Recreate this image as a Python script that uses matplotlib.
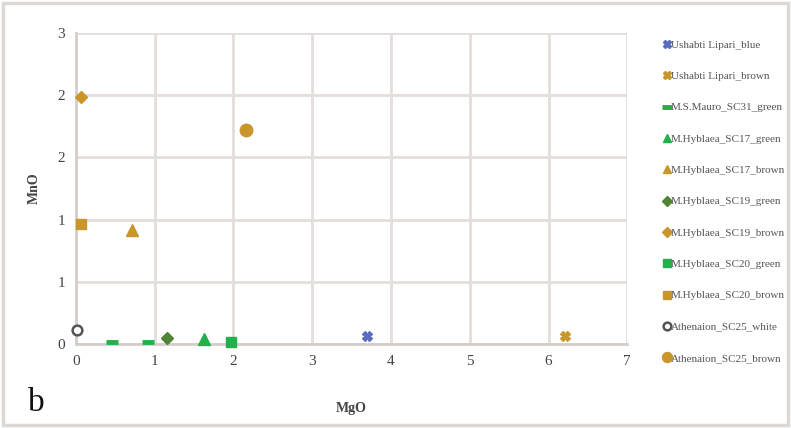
import matplotlib
matplotlib.use('Agg')
import matplotlib.pyplot as plt
from matplotlib.patches import Rectangle
from matplotlib.ticker import FixedLocator, FuncFormatter

plt.rcParams['font.family'] = ['Liberation Serif', 'DejaVu Serif']

# MgO / MnO values per sample group
series_names = [
    "Ushabti Lipari_blue", "Ushabti Lipari_brown", "M.S.Mauro_SC31_green",
    "M.Hyblaea_SC17_green", "M.Hyblaea_SC17_brown", "M.Hyblaea_SC19_green",
    "M.Hyblaea_SC19_brown", "M.Hyblaea_SC20_green", "M.Hyblaea_SC20_brown",
    "Athenaion_SC25_white", "Athenaion_SC25_brown",
]
mgo = [[3.70], [6.21], [0.46, 0.91], [1.63], [0.71], [1.15],
       [0.07], [1.97], [0.06], [0.01], [2.16]]
mno = [[0.08], [0.08], [0.02, 0.02], [0.05], [1.10], [0.06],
       [2.38], [0.02], [1.16], [0.135], [2.06]]

blue = '#5b6cc0'
brown = '#c8962a'
green = '#22b04b'
dkgreen = '#4f8533'
grey = '#555555'

styles = [
    dict(marker='X', color=blue, ms=7),
    dict(marker='X', color=brown, ms=7),
    dict(marker='_', color=green, ms=9, mew=3.5),
    dict(marker='^', color=green, ms=8),
    dict(marker='^', color=brown, ms=8),
    dict(marker='D', color=dkgreen, ms=6),
    dict(marker='D', color=brown, ms=6),
    dict(marker='s', color=green, ms=7),
    dict(marker='s', color=brown, ms=7),
    dict(marker='o', color=grey, ms=7, mfc='white', mew=1.8),
    dict(marker='o', color=brown, ms=9),
]

fig = plt.figure(figsize=(7.91, 4.28), dpi=100)
ax = fig.add_axes([0.096, 0.196, 0.697, 0.727])

for name, xs, ys, st in zip(series_names, mgo, mno, styles):
    st = dict(st)
    kw = dict(marker=st.pop('marker'), color=st.pop('color'),
              markersize=st.pop('ms'), linestyle='none', label=name)
    if 'mfc' in st:
        kw['markerfacecolor'] = st.pop('mfc')
    if 'mew' in st:
        kw['markeredgewidth'] = st.pop('mew')
    ax.plot(xs, ys, clip_on=False, zorder=3, **kw)

ax.set_xlim(0, 7)
ax.set_ylim(0, 3)
ax.xaxis.set_major_locator(FixedLocator(range(0, 8)))
ax.yaxis.set_major_locator(FixedLocator([0, 0.6, 1.2, 1.8, 2.4, 3.0]))
ax.yaxis.set_major_formatter(FuncFormatter(lambda v, p: f"{v:.0f}"))
ax.grid(True, color='#e3dedb', linewidth=2)
ax.set_axisbelow(True)
for side in ['top', 'right']:
    ax.spines[side].set_visible(False)
for side in ['left', 'bottom']:
    ax.spines[side].set_color('#d5cdca')
    ax.spines[side].set_linewidth(2)
ax.tick_params(length=0, labelsize=11, colors='#444444', pad=8)

ax.set_xlabel('MgO', fontsize=10, fontweight='bold', color='#444444', labelpad=24)
ax.set_ylabel('MnO', fontsize=10, fontweight='bold', color='#444444', labelpad=12)

fig.legend(loc='upper left', bbox_to_anchor=(0.826, 0.93), frameon=False,
           fontsize=8, labelspacing=1.94, handlelength=0.6, handletextpad=0.1,
           labelcolor='#555555', markerscale=0.8)

fig.text(0.036, 0.04, 'b', fontsize=24, color='#111111')
fig.add_artist(Rectangle((0.004, 0.006), 0.992, 0.988, transform=fig.transFigure,
                         fill=False, edgecolor='#dcd8d5', linewidth=2.5))

fig.savefig('out.png', dpi=100)
